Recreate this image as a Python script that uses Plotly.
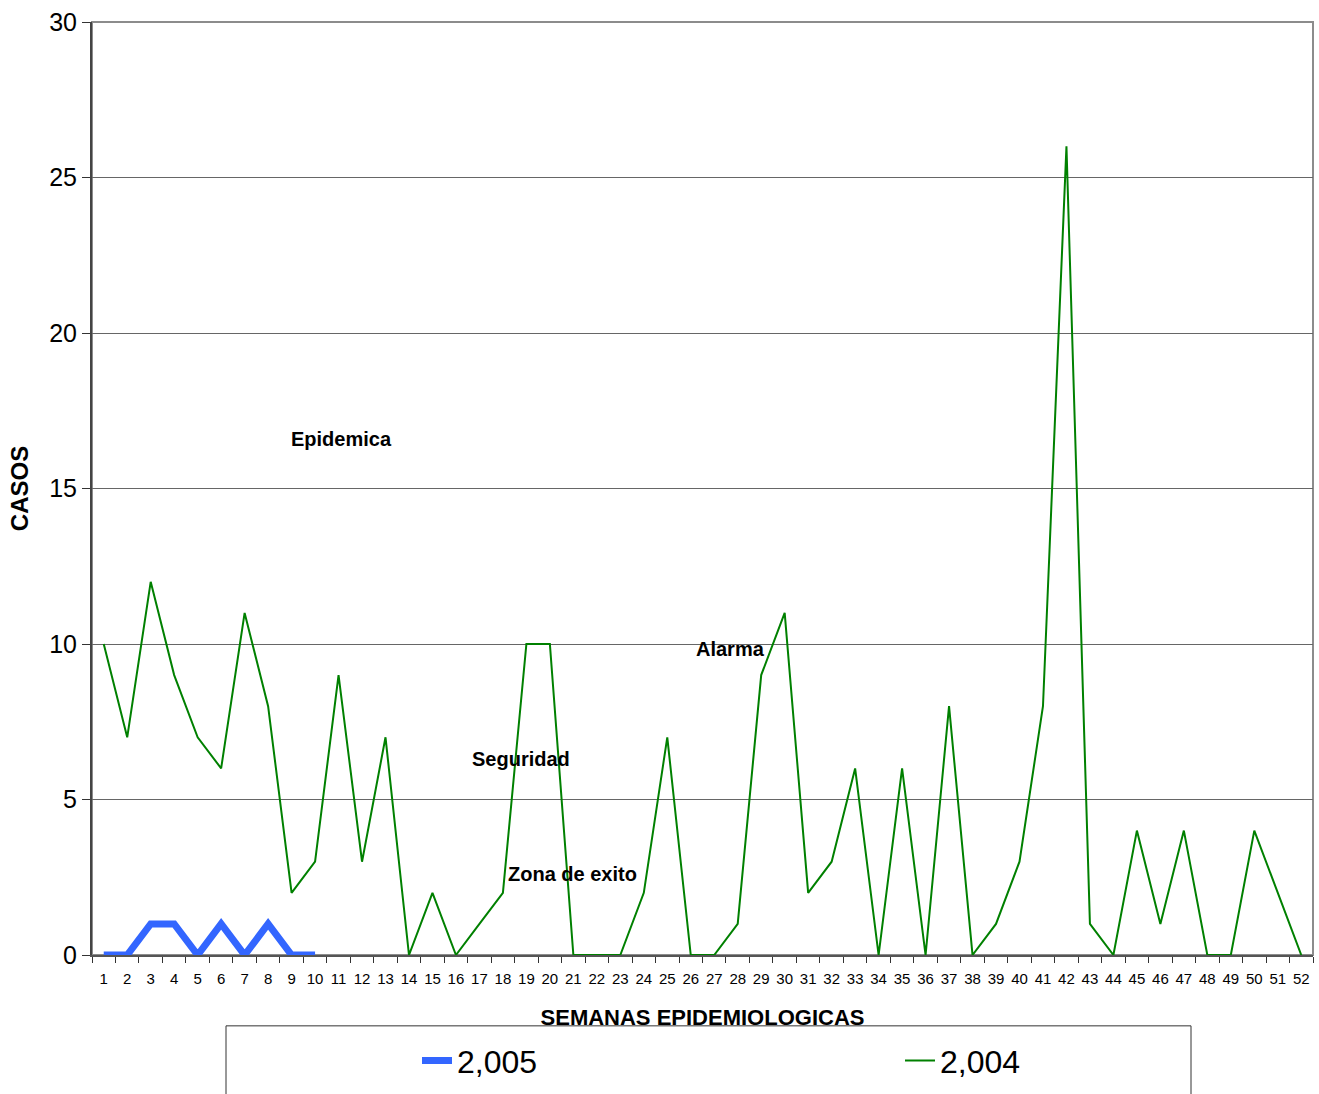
import plotly.graph_objects as go

weeks = list(range(1, 53))
casos_2004 = [10, 7, 12, 9, 7, 6, 11, 8, 2, 3, 9, 3, 7, 0, 2, 0, 1, 2, 10, 10,
              0, 0, 0, 2, 7, 0, 0, 1, 9, 11, 2, 3, 6, 0, 6, 0, 8, 0, 1, 3,
              8, 26, 1, 0, 4, 1, 4, 0, 0, 4, 2, 0]
weeks_2005 = list(range(1, 11))
casos_2005 = [0, 0, 1, 1, 0, 1, 0, 1, 0, 0]

zone_labels = ["Epidemica", "Alarma", "Seguridad", "Zona de exito"]
zone_x = [11.14, 27.7, 18.76, 20.97]
zone_y = [16.6, 9.85, 6.3, 2.6]

FONT = "Liberation Sans, Arial, sans-serif"

W, H = 1319, 1094
L, R, T, B = 92, 6, 22, 137
pw, ph = W - L - R, H - T - B

def px_x(p):
    return (p - L) / pw

def px_y(p):
    return (H - B - p) / ph

fig = go.Figure()
fig.add_trace(go.Scatter(x=weeks_2005, y=casos_2005, mode="lines", name="2,005",
                         legend="legend", cliponaxis=False,
                         line=dict(color="#3366FF", width=7)))
fig.add_trace(go.Scatter(x=weeks, y=casos_2004, mode="lines", name="2,004",
                         legend="legend2", cliponaxis=False,
                         line=dict(color="#008000", width=2)))

for t, x, y in zip(zone_labels, zone_x, zone_y):
    fig.add_annotation(x=x, y=y, xref="x", yref="y", text="<b>" + t + "</b>",
                       showarrow=False, font=dict(family=FONT, size=20, color="black"))

# plot area border (gray top/right)
fig.add_shape(type="rect", xref="paper", yref="paper", x0=0, x1=1, y0=0, y1=1,
              line=dict(color="#8c8c8c", width=2), layer="below")
# legend box
fig.add_shape(type="rect", xref="paper", yref="paper",
              x0=px_x(226), x1=px_x(1191), y0=px_y(1110), y1=px_y(1028),
              line=dict(color="#333333", width=1))

leg_common = dict(orientation="h", xanchor="left", y=px_y(1063), yanchor="middle",
                  font=dict(family=FONT, size=32, color="black"),
                  bgcolor="rgba(0,0,0,0)", borderwidth=0)

fig.update_layout(
    width=W, height=H,
    margin=dict(l=L, r=R, t=T, b=B),
    paper_bgcolor="white", plot_bgcolor="white",
    font=dict(family=FONT, color="black"),
    showlegend=True,
    legend=dict(x=px_x(417), **leg_common),
    legend2=dict(x=px_x(900), **leg_common),
    xaxis=dict(range=[0.5, 52.5], tickmode="array", tickvals=weeks,
               ticktext=[str(w) for w in weeks], ticks="outside", ticklen=9,
               tickcolor="rgba(0,0,0,0)", showgrid=False, zeroline=False,
               tickfont=dict(family=FONT, size=15, color="black"),
               showline=True, linecolor="#555555", linewidth=2, automargin=False,
               layer="below traces",
               minor=dict(tick0=0.5, dtick=1, ticks="outside", ticklen=6,
                          tickcolor="#333333", showgrid=False),
               title=dict(text="<b>SEMANAS EPIDEMIOLOGICAS</b>", standoff=24,
                          font=dict(family=FONT, size=22, color="black"))),
    yaxis=dict(range=[0, 30], dtick=5, ticks="outside", ticklen=8, tickcolor="#333333",
               showgrid=True, gridcolor="#666666", gridwidth=1, zeroline=False,
               showline=True, linecolor="#444444", linewidth=2, automargin=False,
               layer="below traces",
               tickfont=dict(family=FONT, size=25, color="black"),
               title=dict(text="<b>CASOS</b>", standoff=14,
                          font=dict(family=FONT, size=24, color="black"))),
)

fig.write_html("out.html", config={"displayModeBar": False},
               post_script="document.body.style.margin='0';")
